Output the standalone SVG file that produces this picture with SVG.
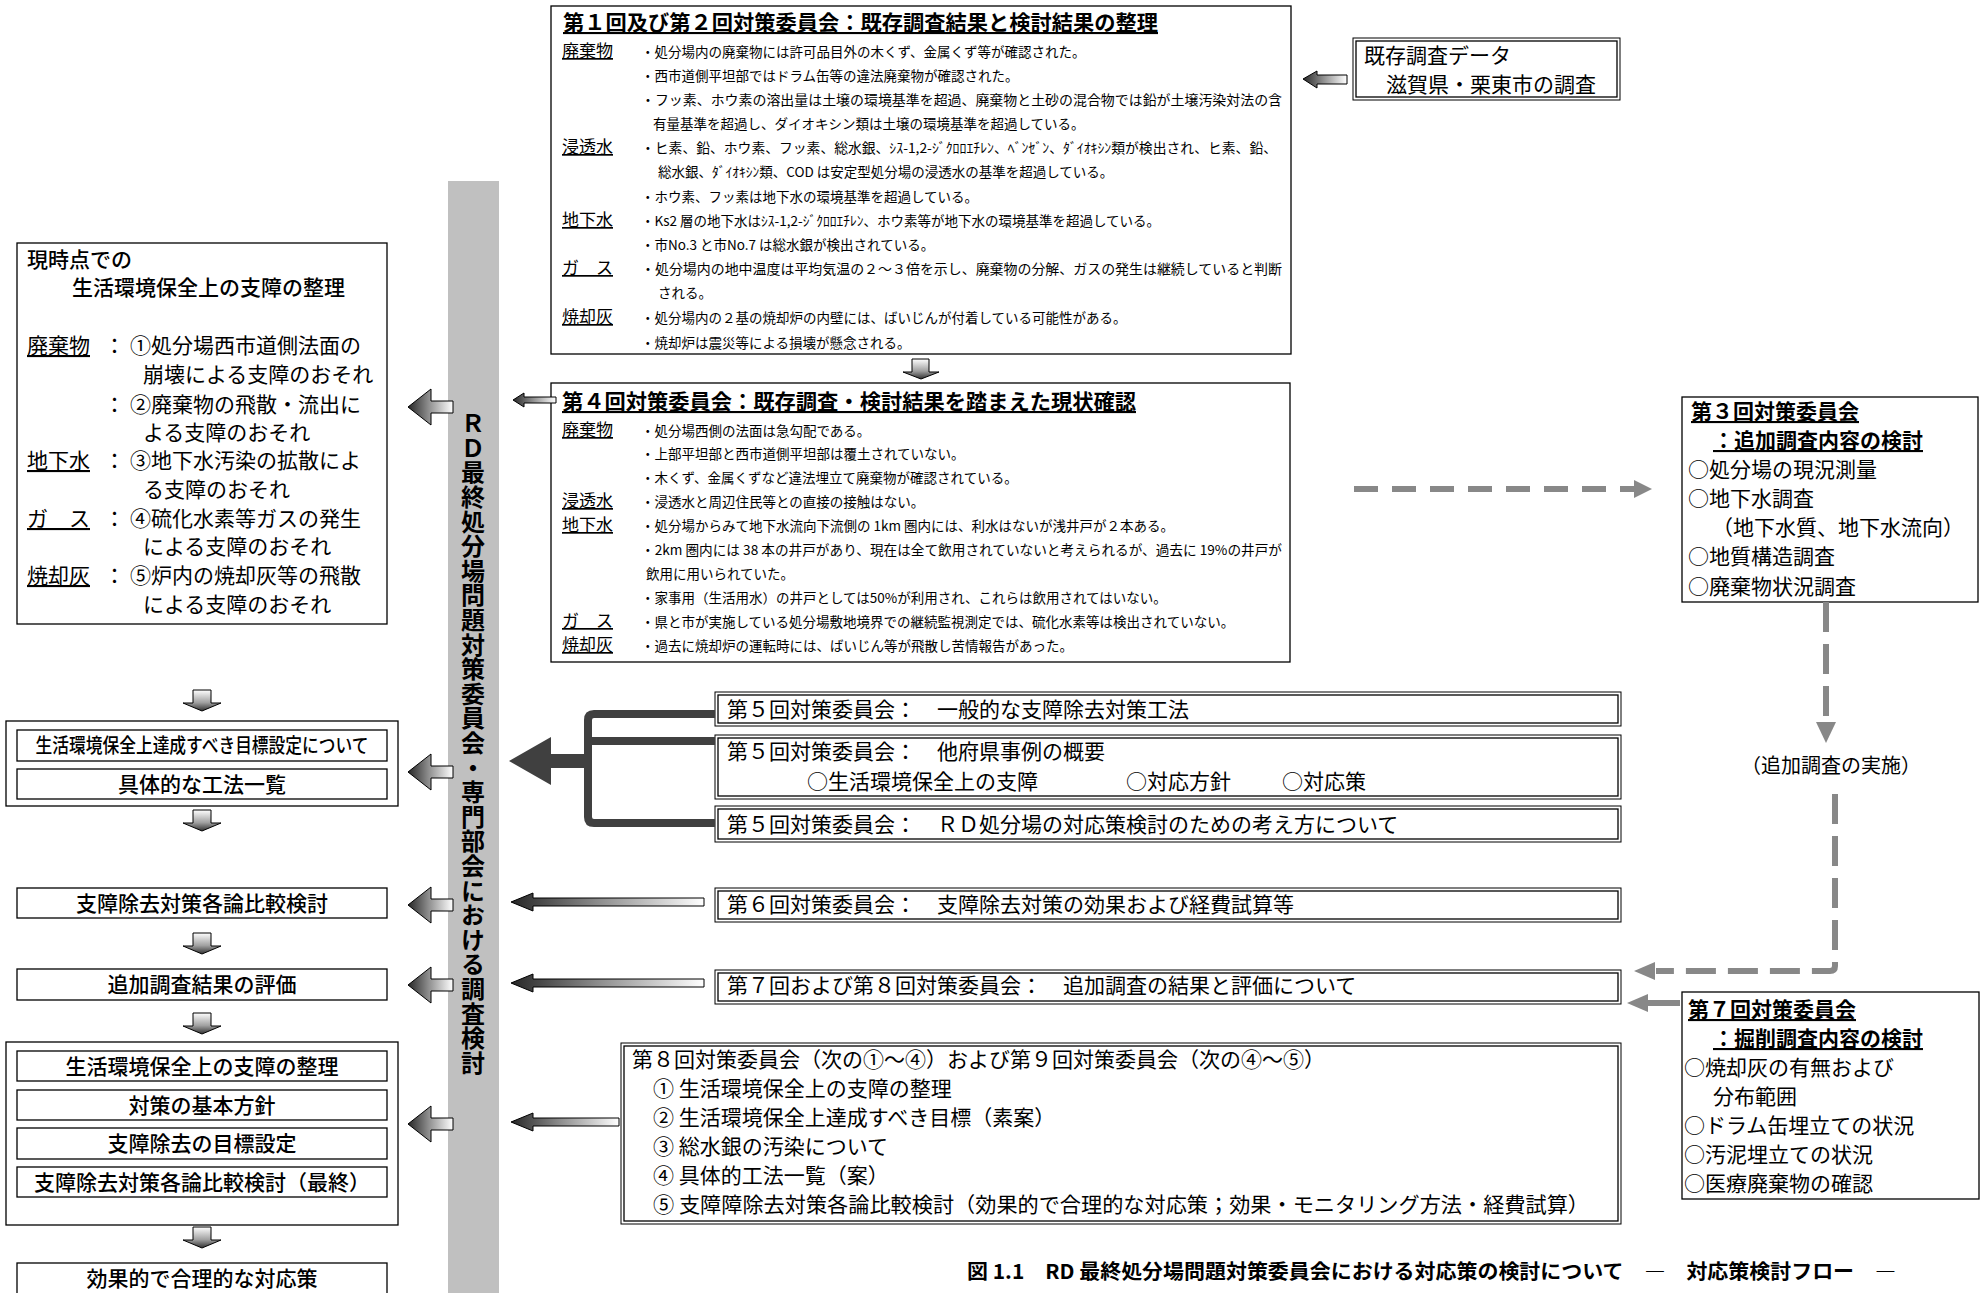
<svg xmlns="http://www.w3.org/2000/svg" width="1982" height="1293" viewBox="0 0 1982 1293">
<style>
text { font-family: "Noto Sans CJK JP", "Noto Sans", sans-serif; fill: #000; }
.b { font-weight: bold; }
.md { font-weight: 500; }
.u { text-decoration: underline; }
.f21 { font-size: 21px; }
.f20 { font-size: 20px; }
.f14 { font-size: 13.5px; }
.f17 { font-size: 17px; }
.box { fill: #fff; stroke: #000; stroke-width: 1.3; }
.dbo { fill: #fff; stroke: #000; stroke-width: 1; }
.dbi { fill: none; stroke: #000; stroke-width: 1.3; }
.arr { stroke: #000; stroke-width: 1; }
.dash { stroke: #888; stroke-width: 6; fill: none; }
.dh { fill: #888; }
</style>
<defs>
<linearGradient id="gl" x1="0" y1="0" x2="1" y2="0">
<stop offset="0" stop-color="#262626"/>
<stop offset="0.45" stop-color="#8c8c8c"/>
<stop offset="1" stop-color="#ffffff"/>
</linearGradient>
<linearGradient id="gd" x1="0" y1="0" x2="0" y2="1">
<stop offset="0" stop-color="#ffffff"/>
<stop offset="0.6" stop-color="#a0a0a0"/>
<stop offset="1" stop-color="#303030"/>
</linearGradient>
</defs>

<rect id="bar" x="448" y="181" width="51" height="1120" fill="#c0c0c0"/>
<text x="473" y="411" class="b" font-size="24" style="writing-mode: vertical-rl; letter-spacing: 0.6px;">ＲＤ最終処分場問題対策委員会・専門部会における調査検討</text>

<g id="n-top">
<rect class="box" x="551" y="6" width="740" height="348"/>
<text x="563" y="30" class="b u f21" textLength="595" lengthAdjust="spacingAndGlyphs">第１回及び第２回対策委員会：既存調査結果と検討結果の整理</text>
<text x="562" y="57" class="f17 u">廃棄物</text>
<text x="641" y="57" class="f14">・処分場内の廃棄物には許可品目外の木くず、金属くず等が確認された。</text>
<text x="641" y="81" class="f14">・西市道側平坦部ではドラム缶等の違法廃棄物が確認された。</text>
<text x="641" y="105" class="f14" textLength="641" lengthAdjust="spacingAndGlyphs">・フッ素、ホウ素の溶出量は土壌の環境基準を超過、廃棄物と土砂の混合物では鉛が土壌汚染対法の含</text>
<text x="653" y="129" class="f14">有量基準を超過し、ダイオキシン類は土壌の環境基準を超過している。</text>
<text x="562" y="153" class="f17 u">浸透水</text>
<text x="641" y="153" class="f14" textLength="636" lengthAdjust="spacingAndGlyphs">・ヒ素、鉛、ホウ素、フッ素、総水銀、ｼｽ-1,2-ｼﾞｸﾛﾛｴﾁﾚﾝ、ﾍﾞﾝｾﾞﾝ、ﾀﾞｲｵｷｼﾝ類が検出され、ヒ素、鉛、</text>
<text x="658" y="177" class="f14">総水銀、ﾀﾞｲｵｷｼﾝ類、COD は安定型処分場の浸透水の基準を超過している。</text>
<text x="641" y="202" class="f14">・ホウ素、フッ素は地下水の環境基準を超過している。</text>
<text x="562" y="226" class="f17 u">地下水</text>
<text x="641" y="226" class="f14">・Ks2 層の地下水はｼｽ-1,2-ｼﾞｸﾛﾛｴﾁﾚﾝ、ホウ素等が地下水の環境基準を超過している。</text>
<text x="641" y="250" class="f14">・市No.3 と市No.7 は総水銀が検出されている。</text>
<text x="562" y="274" class="f17 u">ガ　ス</text>
<text x="641" y="274" class="f14" textLength="641" lengthAdjust="spacingAndGlyphs">・処分場内の地中温度は平均気温の２～３倍を示し、廃棄物の分解、ガスの発生は継続していると判断</text>
<text x="658" y="298" class="f14">される。</text>
<text x="562" y="323" class="f17 u">焼却灰</text>
<text x="641" y="323" class="f14">・処分場内の２基の焼却炉の内壁には、ばいじんが付着している可能性がある。</text>
<text x="641" y="348" class="f14">・焼却炉は震災等による損壊が懸念される。</text>
</g>

<g id="n-kizon">
<rect class="dbo" x="1353" y="38" width="267" height="62"/>
<rect class="dbi" x="1356" y="41" width="261" height="56"/>
<text x="1364" y="63" class="f21">既存調査データ</text>
<text x="1386" y="92" class="f21">滋賀県・栗東市の調査</text>
</g>

<g id="n-4th">
<rect class="box" x="551" y="383" width="739" height="279"/>
<text x="562" y="409" class="b u f21" textLength="574" lengthAdjust="spacingAndGlyphs">第４回対策委員会：既存調査・検討結果を踏まえた現状確認</text>
<text x="562" y="436" class="f17 u">廃棄物</text>
<text x="641" y="436" class="f14">・処分場西側の法面は急勾配である。</text>
<text x="641" y="459" class="f14">・上部平坦部と西市道側平坦部は覆土されていない。</text>
<text x="641" y="483" class="f14">・木くず、金属くずなど違法埋立て廃棄物が確認されている。</text>
<text x="562" y="507" class="f17 u">浸透水</text>
<text x="641" y="507" class="f14">・浸透水と周辺住民等との直接の接触はない。</text>
<text x="562" y="531" class="f17 u">地下水</text>
<text x="641" y="531" class="f14">・処分場からみて地下水流向下流側の 1km 圏内には、利水はないが浅井戸が２本ある。</text>
<text x="641" y="555" class="f14" textLength="641" lengthAdjust="spacingAndGlyphs">・2km 圏内には 38 本の井戸があり、現在は全て飲用されていないと考えられるが、過去に 19%の井戸が</text>
<text x="646" y="579" class="f14">飲用に用いられていた。</text>
<text x="641" y="603" class="f14">・家事用（生活用水）の井戸としては50%が利用され、これらは飲用されてはいない。</text>
<text x="562" y="627" class="f17 u">ガ　ス</text>
<text x="641" y="627" class="f14">・県と市が実施している処分場敷地境界での継続監視測定では、硫化水素等は検出されていない。</text>
<text x="562" y="651" class="f17 u">焼却灰</text>
<text x="641" y="651" class="f14">・過去に焼却炉の運転時には、ばいじん等が飛散し苦情報告があった。</text>
</g>

<g id="n-genjiten">
<rect class="box" x="17" y="243" width="370" height="381"/>
<text x="27" y="267" class="md f21">現時点での</text>
<text x="72" y="295" class="md f21">生活環境保全上の支障の整理</text>
<text x="27" y="353" class="f21 u">廃棄物</text>
<text x="104" y="353" class="f21">：</text>
<text x="130" y="353" class="f21">①処分場西市道側法面の</text>
<text x="143" y="382" class="f21">崩壊による支障のおそれ</text>
<text x="104" y="412" class="f21">：</text>
<text x="130" y="412" class="f21">②廃棄物の飛散・流出に</text>
<text x="143" y="440" class="f21">よる支障のおそれ</text>
<text x="27" y="468" class="f21 u">地下水</text>
<text x="104" y="468" class="f21">：</text>
<text x="130" y="468" class="f21">③地下水汚染の拡散によ</text>
<text x="143" y="497" class="f21">る支障のおそれ</text>
<text x="27" y="526" class="f21 u">ガ　ス</text>
<text x="104" y="526" class="f21">：</text>
<text x="130" y="526" class="f21">④硫化水素等ガスの発生</text>
<text x="143" y="554" class="f21">による支障のおそれ</text>
<text x="27" y="583" class="f21 u">焼却灰</text>
<text x="104" y="583" class="f21">：</text>
<text x="130" y="583" class="f21">⑤炉内の焼却灰等の飛散</text>
<text x="143" y="612" class="f21">による支障のおそれ</text>
</g>

<g id="n-groupA">
<rect class="box" x="6" y="721" width="392" height="85"/>
<rect class="box" x="17" y="730" width="370" height="31"/>
<text x="202" y="753" class="md f20" text-anchor="middle" textLength="333" lengthAdjust="spacingAndGlyphs">生活環境保全上達成すべき目標設定について</text>
<rect class="box" x="17" y="769" width="370" height="30"/>
<text x="202" y="792" class="md f21" text-anchor="middle">具体的な工法一覧</text>
</g>

<g id="n-hikaku">
<rect class="box" x="17" y="888" width="370" height="30"/>
<text x="202" y="911" class="md f21" text-anchor="middle">支障除去対策各論比較検討</text>
</g>

<g id="n-hyouka">
<rect class="box" x="17" y="969" width="370" height="31"/>
<text x="202" y="992" class="md f21" text-anchor="middle">追加調査結果の評価</text>
</g>

<g id="n-groupB">
<rect class="box" x="6" y="1042" width="392" height="183"/>
<rect class="box" x="17" y="1051" width="370" height="30"/>
<text x="202" y="1074" class="md f21" text-anchor="middle">生活環境保全上の支障の整理</text>
<rect class="box" x="17" y="1090" width="370" height="30"/>
<text x="202" y="1113" class="md f21" text-anchor="middle">対策の基本方針</text>
<rect class="box" x="17" y="1128" width="370" height="31"/>
<text x="202" y="1151" class="md f21" text-anchor="middle">支障除去の目標設定</text>
<rect class="box" x="17" y="1167" width="370" height="30"/>
<text x="202" y="1190" class="md f21" text-anchor="middle">支障除去対策各論比較検討（最終）</text>
</g>

<g id="n-final">
<rect class="box" x="17" y="1263" width="370" height="40"/>
<text x="202" y="1286" class="md f21" text-anchor="middle">効果的で合理的な対応策</text>
</g>

<g id="n-5a">
<rect class="dbo" x="715" y="692" width="906" height="34"/>
<rect class="dbi" x="718" y="695" width="900" height="28"/>
<text x="727" y="717" class="f21">第５回対策委員会：　一般的な支障除去対策工法</text>
</g>
<g id="n-5b">
<rect class="dbo" x="715" y="735" width="906" height="64"/>
<rect class="dbi" x="718" y="738" width="900" height="58"/>
<text x="727" y="759" class="f21">第５回対策委員会：　他府県事例の概要</text>
<text y="789" class="f21"><tspan x="807">○生活環境保全上の支障</tspan><tspan x="1126">○対応方針</tspan><tspan x="1282">○対応策</tspan></text>
</g>
<g id="n-5c">
<rect class="dbo" x="715" y="806" width="906" height="36"/>
<rect class="dbi" x="718" y="809" width="900" height="30"/>
<text x="727" y="832" class="f21">第５回対策委員会：　ＲＤ処分場の対応策検討のための考え方について</text>
</g>
<g id="n-6">
<rect class="dbo" x="715" y="888" width="906" height="34"/>
<rect class="dbi" x="718" y="891" width="900" height="28"/>
<text x="727" y="912" class="f21">第６回対策委員会：　支障除去対策の効果および経費試算等</text>
</g>
<g id="n-78">
<rect class="dbo" x="715" y="970" width="906" height="34"/>
<rect class="dbi" x="718" y="973" width="900" height="28"/>
<text x="727" y="993" class="f21">第７回および第８回対策委員会：　追加調査の結果と評価について</text>
</g>
<g id="n-89">
<rect class="dbo" x="621" y="1043" width="1000" height="181"/>
<rect class="dbi" x="624" y="1046" width="994" height="175"/>
<text x="632" y="1067" class="f21">第８回対策委員会（次の①～④）および第９回対策委員会（次の④～⑤）</text>
<text x="653" y="1096" class="f21">① 生活環境保全上の支障の整理</text>
<text x="653" y="1125" class="f21">② 生活環境保全上達成すべき目標（素案）</text>
<text x="653" y="1154" class="f21">③ 総水銀の汚染について</text>
<text x="653" y="1183" class="f21">④ 具体的工法一覧（案）</text>
<text x="653" y="1212" class="f21" textLength="936" lengthAdjust="spacingAndGlyphs">⑤ 支障障除去対策各論比較検討（効果的で合理的な対応策；効果・モニタリング方法・経費試算）</text>
</g>

<g id="n-3rd">
<rect class="box" x="1682" y="397" width="296" height="205"/>
<text x="1691" y="419" class="b u f21">第３回対策委員会</text>
<text x="1713" y="448" class="b u f21">：追加調査内容の検討</text>
<text x="1688" y="477" class="f21">○処分場の現況測量</text>
<text x="1688" y="506" class="f21">○地下水調査</text>
<text x="1712" y="535" class="f21">（地下水質、地下水流向）</text>
<text x="1688" y="564" class="f21">○地質構造調査</text>
<text x="1688" y="594" class="f21">○廃棄物状況調査</text>
</g>

<g id="n-7th">
<rect class="box" x="1682" y="992" width="297" height="207"/>
<text x="1688" y="1017" class="b u f21">第７回対策委員会</text>
<text x="1713" y="1046" class="b u f21">：掘削調査内容の検討</text>
<text x="1684" y="1075" class="f21">○焼却灰の有無および</text>
<text x="1713" y="1104" class="f21">分布範囲</text>
<text x="1684" y="1133" class="f21">○ドラム缶埋立ての状況</text>
<text x="1684" y="1162" class="f21">○汚泥埋立ての状況</text>
<text x="1684" y="1191" class="f21">○医療廃棄物の確認</text>
</g>

<g id="n-jisshi">
<text x="1831" y="773" class="f20" text-anchor="middle">（追加調査の実施）</text>
</g>

<g id="n-caption">
<text x="967" y="1279" class="b f20" textLength="929" lengthAdjust="spacingAndGlyphs">図 1.1　RD 最終処分場問題対策委員会における対応策の検討について　―　対応策検討フロー　―</text>
</g>

<g id="connectors">
<polygon class="arr" fill="url(#gd)" points="912,359 929,359 929,372 939,372 921,379 903,372 912,372"/>
<polygon class="arr" fill="url(#gl)" points="1303,79 1317,71 1317,75 1347,75 1347,84 1317,84 1317,88"/>
<polygon class="arr" fill="url(#gl)" points="513,400 524,393 524,397 556,397 556,403 524,403 524,407"/>
<polygon class="arr" fill="url(#gl)" points="408,407 431,389 431,401 453,401 453,413 431,413 431,425"/>
<polygon class="arr" fill="url(#gl)" points="408,772 431,754 431,766 453,766 453,778 431,778 431,790"/>
<polygon class="arr" fill="url(#gl)" points="408,905 431,887 431,899 453,899 453,911 431,911 431,923"/>
<polygon class="arr" fill="url(#gl)" points="408,985 431,967 431,979 453,979 453,991 431,991 431,1003"/>
<polygon class="arr" fill="url(#gl)" points="408,1124 431,1106 431,1118 453,1118 453,1130 431,1130 431,1142"/>
<polygon class="arr" fill="url(#gd)" points="193,690 211,690 211,703 221,703 202,711 183,703 193,703"/>
<polygon class="arr" fill="url(#gd)" points="193,810 211,810 211,823 221,823 202,831 183,823 193,823"/>
<polygon class="arr" fill="url(#gd)" points="193,933 211,933 211,946 221,946 202,954 183,946 193,946"/>
<polygon class="arr" fill="url(#gd)" points="193,1013 211,1013 211,1026 221,1026 202,1034 183,1026 193,1026"/>
<polygon class="arr" fill="url(#gd)" points="193,1227 211,1227 211,1240 221,1240 202,1248 183,1240 193,1240"/>
<path d="M715,714 H594 Q588,714 588,720 V817 Q588,823 594,823 H715 M588,741 H715" fill="none" stroke="#404040" stroke-width="8"/>
<polygon fill="#404040" points="509,761 551,737 551,754 590,754 590,768 551,768 551,785"/>
<polygon class="arr" fill="url(#gl)" points="511,902 533,893 533,898 704,898 704,906 533,906 533,911"/>
<polygon class="arr" fill="url(#gl)" points="511,983 533,974 533,979 704,979 704,987 533,987 533,992"/>
<polygon class="arr" fill="url(#gl)" points="511,1122 533,1113 533,1118 619,1118 619,1126 533,1126 533,1131"/>
<line class="dash" x1="1354" y1="489" x2="1636" y2="489" stroke-dasharray="24 14"/>
<polygon class="dh" points="1652,489 1634,480 1634,498"/>
<line class="dash" x1="1826" y1="602" x2="1826" y2="722" stroke-dasharray="30 12"/>
<polygon class="dh" points="1826,743 1816,722 1836,722"/>
<path class="dash" d="M1835,794 V966 Q1835,971 1830,971 H1656" stroke-dasharray="30 12"/>
<polygon class="dh" points="1634,971 1655,962 1655,980"/>
<line class="dash" x1="1680" y1="1003" x2="1648" y2="1003"/>
<polygon class="dh" points="1627,1003 1648,994 1648,1012"/>
</g>
</svg>
